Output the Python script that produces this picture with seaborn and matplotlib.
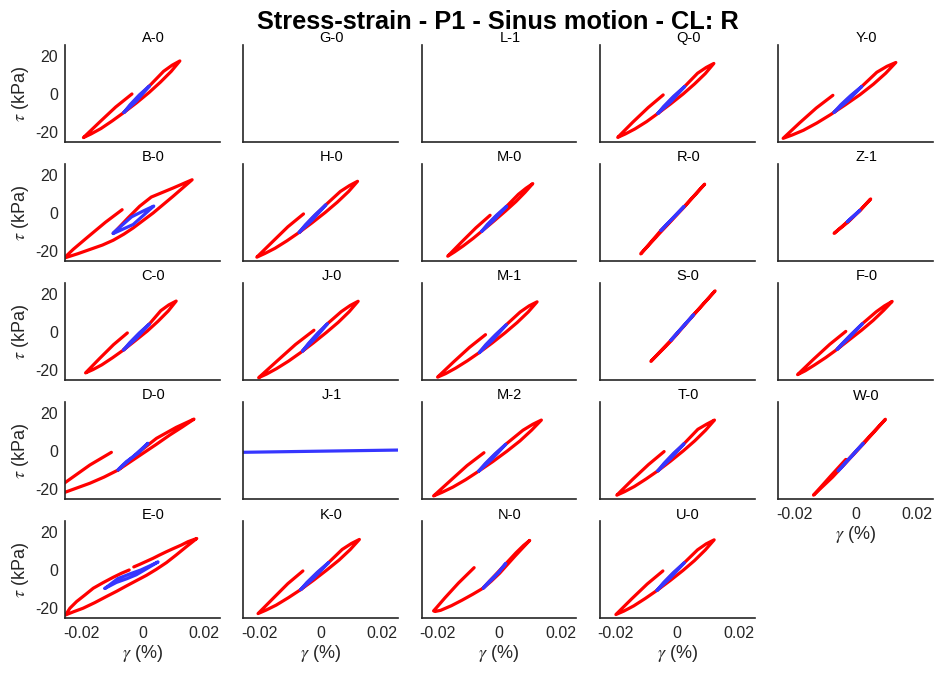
import matplotlib
matplotlib.use("Agg")
import matplotlib.pyplot as plt
import pandas as pd
import seaborn as sns

sns.set_theme(style="white")
plt.rcParams["font.family"] = ["Liberation Sans", "DejaVu Sans"]
plt.rcParams["mathtext.fontset"] = "stix"
plt.rcParams["lines.solid_capstyle"] = "round"
plt.rcParams["lines.solid_joinstyle"] = "round"

RED = "#ff0000"
BLUE = "#3636ff"
INK = "#262626"

# Panel names, laid out row by row (None = no panel)
PANEL_ROWS = [
    ["A-0", "G-0", "L-1", "Q-0", "Y-0"],
    ["B-0", "H-0", "M-0", "R-0", "Z-1"],
    ["C-0", "J-0", "M-1", "S-0", "F-0"],
    ["D-0", "J-1", "M-2", "T-0", "W-0"],
    ["E-0", "K-0", "N-0", "U-0", None],
]

X_TICKS = [-0.02, 0, 0.02]
X_TICK_LABELS = ["-0.02", "0", "0.02"]
Y_TICKS = [-20, 0, 20]
Y_TICK_LABELS = ["-20", "0", "20"]

# Stress-strain paths: (gamma [%], tau [kPa]); red = full record, blue = steady part
A0_red = [(-0.0034, 0.0), (-0.0087, -6.8), (-0.0139, -14.6), (-0.0192, -22.7),
          (-0.0167, -20.8), (-0.0135, -18.0), (-0.0098, -14.0), (-0.0060, -9.6), (-0.0019, -4.6),
          (0.0022, 0.8), (0.0059, 6.2), (0.0094, 11.8), (0.0122, 17.2),
          (0.0097, 15.0), (0.0069, 11.8), (0.0023, 4.2), (-0.0019, -2.4), (-0.0060, -9.6)]
A0_blue = [(-0.0060, -9.6), (-0.0019, -3.6), (0.0023, 4.2), (-0.0010, -0.5), (-0.0040, -5.6),
           (-0.0060, -9.6)]

Q0_red = [(-0.0046, -0.5), (-0.0095, -7.1), (-0.0145, -14.7), (-0.0194, -22.6),
          (-0.0169, -20.8), (-0.0138, -18.2), (-0.0100, -14.4), (-0.0063, -10.1), (-0.0022, -5.2),
          (0.0019, 0.0), (0.0056, 5.2), (0.0091, 10.6), (0.0119, 15.9),
          (0.0094, 13.8), (0.0066, 10.8), (0.0024, 3.9), (-0.0020, -2.8), (-0.0063, -10.1)]
Q0_blue = [(-0.0063, -10.1), (-0.0020, -3.9), (0.0024, 3.9), (-0.0012, -1.2), (-0.0045, -6.6),
           (-0.0063, -10.1)]

Y0_red = [(-0.0074, -0.7), (-0.0128, -7.3), (-0.0182, -15.0), (-0.0236, -23.1),
          (-0.0207, -21.4), (-0.0170, -18.9), (-0.0126, -15.1), (-0.0082, -10.8), (-0.0034, -5.7),
          (0.0014, -0.4), (0.0058, 5.1), (0.0098, 10.8), (0.0131, 16.4),
          (0.0102, 14.4), (0.0069, 11.3), (0.0020, 3.9), (-0.0025, -2.5), (-0.0070, -9.5)]
Y0_blue = [(-0.0070, -9.5), (-0.0025, -3.5), (0.0020, 3.9), (-0.0015, -0.7), (-0.0048, -5.6),
           (-0.0070, -9.5)]

B0_red = [(-0.0066, 1.7), (-0.0120, -4.8), (-0.0180, -12.8), (-0.0225, -18.9), (-0.0255, -23.5),
          (-0.0210, -21.2), (-0.0171, -19.0), (-0.0130, -16.7), (-0.0095, -14.2),
          (-0.0060, -11.0), (-0.0030, -7.8), (0.0035, 0.0), (0.0100, 8.7), (0.0162, 17.3),
          (0.0100, 13.0), (0.0029, 8.3), (-0.0009, 3.5), (-0.0047, -2.6), (-0.0095, -10.7)]
B0_blue = [(-0.0095, -10.7), (-0.0030, -6.0), (0.0037, 3.6), (0.0005, 1.2), (-0.0035, -2.0),
           (-0.0095, -10.4)]

H0_red = [(-0.0056, -0.5), (-0.0107, -7.2), (-0.0157, -15.0), (-0.0208, -23.0),
          (-0.0182, -21.1), (-0.0149, -18.4), (-0.0110, -14.5), (-0.0070, -10.1), (-0.0028, -5.1),
          (0.0015, 0.3), (0.0054, 5.6), (0.0091, 11.2), (0.0120, 16.5),
          (0.0094, 14.3), (0.0064, 11.2), (0.0017, 4.3), (-0.0027, -2.6), (-0.0070, -10.1)]
H0_blue = [(-0.0070, -10.1), (-0.0027, -3.6), (0.0017, 4.3), (-0.0018, -0.9), (-0.0050, -6.2),
           (-0.0070, -10.1)]

M0_red = [(-0.0029, -1.2), (-0.0075, -7.7), (-0.0121, -15.0), (-0.0167, -22.5),
          (-0.0145, -20.3), (-0.0117, -17.2), (-0.0084, -13.2), (-0.0056, -9.5), (-0.0015, -4.0),
          (0.0021, 1.0), (0.0055, 5.9), (0.0085, 10.8), (0.0110, 15.3),
          (0.0088, 12.9), (0.0063, 9.7), (0.0025, 3.5), (-0.0016, -2.7), (-0.0056, -9.5)]
M0_blue = [(-0.0056, -9.5), (-0.0016, -3.6), (0.0025, 3.5), (-0.0007, -1.0), (-0.0038, -6.0),
           (-0.0056, -9.5)]

R0_red = [(-0.0054, -9.2), (-0.0119, -21.3), (-0.0052, -9.6), (0.0022, 3.0), (0.0089, 15.0),
          (0.0024, 3.6), (-0.0054, -9.2)]
R0_blue = [(-0.0054, -9.2), (0.0022, 3.4), (-0.0052, -9.0)]

Z1_red = [(-0.0027, -4.6), (-0.0070, -10.6), (-0.0025, -4.8), (0.0014, 1.2), (0.0049, 7.3),
          (0.0016, 1.6), (-0.0027, -4.6)]
Z1_blue = [(-0.0027, -4.6), (0.0014, 1.4), (-0.0026, -4.4)]

C0_red = [(-0.0049, -0.5), (-0.0094, -6.6), (-0.0140, -13.9), (-0.0185, -21.3),
          (-0.0161, -19.6), (-0.0132, -17.1), (-0.0097, -13.4), (-0.0061, -9.3), (-0.0023, -4.5),
          (0.0016, 0.5), (0.0051, 5.6), (0.0084, 10.9), (0.0110, 16.1),
          (0.0086, 14.1), (0.0060, 11.1), (0.0023, 4.2), (-0.0019, -2.3), (-0.0061, -9.3)]
C0_blue = [(-0.0061, -9.3), (-0.0019, -3.2), (0.0023, 4.2), (-0.0010, -0.5), (-0.0042, -5.7),
           (-0.0061, -9.3)]

J0_red = [(-0.0022, 0.9), (-0.0082, -6.5), (-0.0142, -15.1), (-0.0202, -23.8),
          (-0.0176, -21.9), (-0.0144, -19.1), (-0.0105, -15.2), (-0.0066, -10.8), (-0.0024, -5.7),
          (0.0018, -0.3), (0.0057, 5.0), (0.0093, 10.6), (0.0122, 16.0),
          (0.0096, 13.8), (0.0067, 10.6), (0.0022, 4.3), (-0.0019, -2.5), (-0.0059, -9.9)]
J0_blue = [(-0.0059, -9.9), (-0.0019, -3.5), (0.0022, 4.3), (-0.0010, -0.7), (-0.0040, -6.0),
           (-0.0059, -9.9)]

M1_red = [(-0.0044, -1.4), (-0.0096, -8.0), (-0.0148, -15.6), (-0.0200, -23.5),
          (-0.0174, -21.7), (-0.0142, -18.9), (-0.0103, -15.0), (-0.0064, -10.7), (-0.0022, -5.7),
          (0.0020, -0.4), (0.0059, 4.9), (0.0095, 10.4), (0.0124, 15.7),
          (0.0098, 13.6), (0.0069, 10.4), (0.0024, 3.8), (-0.0020, -3.1), (-0.0064, -10.7)]
M1_blue = [(-0.0064, -10.7), (-0.0020, -4.1), (0.0024, 3.8), (-0.0011, -1.4), (-0.0043, -6.6),
           (-0.0064, -10.7)]

S0_red = [(-0.0021, -4.3), (-0.0086, -15.3), (-0.0020, -4.6), (0.0053, 8.8), (0.0123, 21.4),
          (0.0054, 9.2), (-0.0021, -4.3)]
S0_blue = [(-0.0021, -4.3), (0.0053, 9.0), (-0.0020, -4.1)]

F0_red = [(-0.0032, 0.3), (-0.0084, -6.4), (-0.0137, -14.2), (-0.0189, -22.2),
          (-0.0164, -20.2), (-0.0134, -17.2), (-0.0097, -13.3), (-0.0060, -9.0), (-0.0020, -4.0),
          (0.0020, 1.0), (0.0057, 6.0), (0.0091, 11.2), (0.0119, 15.9),
          (0.0094, 13.6), (0.0067, 10.5), (0.0022, 4.3), (-0.0019, -2.1), (-0.0060, -9.0)]
F0_blue = [(-0.0060, -9.0), (-0.0019, -2.7), (0.0022, 4.3), (-0.0012, -0.9), (-0.0044, -6.1),
           (-0.0060, -9.0)]

D0_red = [(-0.0101, -0.7), (-0.0136, -4.0), (-0.0171, -7.3), (-0.0252, -16.5), (-0.0336, -26.3),
          (-0.0252, -21.5), (-0.0171, -16.8), (-0.0125, -13.6), (-0.0079, -9.9), (0.0002, -1.2),
          (0.0045, 3.4), (0.0089, 8.3), (0.0130, 12.5), (0.0168, 16.6),
          (0.0110, 12.3), (0.0046, 6.6), (-0.0009, -0.3), (-0.0079, -9.9)]
D0_blue = [(-0.0079, -9.9), (-0.0030, -2.9), (0.0018, 4.0), (-0.0014, -1.2), (-0.0052, -5.5),
           (-0.0079, -9.7)]

J1_blue = [(-0.0260, -0.7), (0.0260, 0.5)]

M2_red = [(-0.0049, -0.9), (-0.0104, -7.6), (-0.0158, -15.4), (-0.0213, -23.4),
          (-0.0185, -21.5), (-0.0150, -18.8), (-0.0108, -14.9), (-0.0066, -10.5), (-0.0020, -5.5),
          (0.0026, -0.1), (0.0068, 5.2), (0.0106, 10.8), (0.0138, 16.1),
          (0.0110, 13.9), (0.0078, 10.8), (0.0022, 3.5), (-0.0022, -3.2), (-0.0066, -10.5)]
M2_blue = [(-0.0066, -10.5), (-0.0022, -4.1), (0.0022, 3.5), (-0.0013, -1.5), (-0.0045, -6.6),
           (-0.0066, -10.5)]

T0_red = [(-0.0043, -0.3), (-0.0094, -7.1), (-0.0146, -14.9), (-0.0197, -23.0),
          (-0.0172, -21.2), (-0.0140, -18.5), (-0.0102, -14.6), (-0.0063, -10.3), (-0.0022, -5.3),
          (0.0019, 0.0), (0.0057, 5.3), (0.0092, 10.8), (0.0121, 16.1),
          (0.0096, 14.0), (0.0067, 11.3), (0.0043, 7.3), (0.0022, 3.8), (-0.0021, -3.0),
          (-0.0063, -10.3)]
T0_blue = [(-0.0063, -10.3), (-0.0021, -3.9), (0.0022, 3.8), (-0.0012, -1.2), (-0.0043, -6.4),
           (-0.0063, -10.3)]

W0_red = [(-0.0032, -4.4), (-0.0080, -12.8), (-0.0137, -23.0), (-0.0075, -13.6), (0.0025, 3.6),
          (0.0097, 16.5), (0.0030, 5.0), (-0.0057, -10.2)]
W0_blue = [(-0.0057, -10.4), (0.0025, 4.0), (-0.0055, -10.0)]

E0_red = [(-0.0043, 0.0), (-0.0068, -1.7), (-0.0095, -3.8), (-0.0128, -6.6), (-0.0160, -9.5),
          (-0.0187, -13.0), (-0.0214, -16.4), (-0.0236, -19.9), (-0.0250, -23.4),
          (-0.0225, -21.8), (-0.0193, -19.9), (-0.0155, -17.0), (-0.0117, -13.8),
          (-0.0084, -11.1), (-0.0052, -8.3), (-0.0019, -5.5), (0.0013, -2.8), (0.0045, 0.3),
          (0.0078, 3.8), (0.0110, 7.8), (0.0143, 12.1), (0.0177, 16.4),
          (0.0148, 14.7), (0.0127, 13.0), (0.0100, 11.1), (0.0078, 9.5), (0.0056, 7.8),
          (0.0035, 6.1), (0.0013, 4.5), (-0.0009, 2.9), (-0.0028, 1.6)]
E0_blue = [(-0.0122, -9.6), (-0.0085, -6.5), (-0.0050, -4.5), (-0.0020, -2.5), (0.0010, 0.3),
           (0.0051, 4.2), (0.0025, 2.2), (-0.0005, 0.0), (-0.0040, -2.0), (-0.0080, -4.5),
           (-0.0122, -9.6)]

K0_red = [(-0.0058, -0.5), (-0.0107, -7.1), (-0.0155, -14.8), (-0.0204, -22.7),
          (-0.0178, -20.9), (-0.0145, -18.3), (-0.0105, -14.4), (-0.0065, -10.2), (-0.0023, -5.3),
          (0.0020, 0.0), (0.0060, 5.2), (0.0096, 10.6), (0.0126, 15.9),
          (0.0100, 13.8), (0.0070, 10.7), (0.0026, 3.9), (-0.0020, -2.9), (-0.0065, -10.2)]
K0_blue = [(-0.0065, -10.2), (-0.0020, -3.8), (0.0026, 3.9), (-0.0011, -1.2), (-0.0045, -6.5),
           (-0.0065, -10.2)]

N0_red = [(-0.0081, 1.2), (-0.0132, -6.8), (-0.0176, -14.5), (-0.0203, -19.5), (-0.0213, -21.3),
          (-0.0208, -21.6), (-0.0190, -21.0), (-0.0155, -18.6), (-0.0120, -15.7),
          (-0.0085, -12.6), (-0.0051, -9.4), (-0.0025, -5.8), (0.0002, -1.7), (0.0052, 7.2),
          (0.0100, 15.4),
          (0.0080, 12.8), (0.0055, 8.9), (0.0030, 4.6), (0.0005, 0.3), (-0.0025, -4.8),
          (-0.0051, -9.2)]
N0_blue = [(-0.0051, -9.4), (-0.0014, -3.6), (0.0022, 3.4), (0.0002, -0.7), (-0.0030, -5.7),
           (-0.0051, -9.4)]

U0_red = [(-0.0047, -0.5), (-0.0098, -7.3), (-0.0149, -15.1), (-0.0200, -23.2),
          (-0.0174, -21.4), (-0.0142, -18.7), (-0.0104, -14.8), (-0.0066, -10.6), (-0.0024, -5.6),
          (0.0018, -0.3), (0.0056, 4.9), (0.0091, 10.4), (0.0120, 15.7),
          (0.0094, 13.6), (0.0066, 10.5), (0.0023, 3.8), (-0.0022, -3.1), (-0.0066, -10.6)]
U0_blue = [(-0.0066, -10.6), (-0.0022, -4.0), (0.0023, 3.8), (-0.0013, -1.4), (-0.0045, -6.6),
           (-0.0066, -10.6)]

RED_PATHS = {
    "A-0": A0_red, "Q-0": Q0_red, "Y-0": Y0_red,
    "B-0": B0_red, "H-0": H0_red, "M-0": M0_red, "R-0": R0_red, "Z-1": Z1_red,
    "C-0": C0_red, "J-0": J0_red, "M-1": M1_red, "S-0": S0_red, "F-0": F0_red,
    "D-0": D0_red, "M-2": M2_red, "T-0": T0_red, "W-0": W0_red,
    "E-0": E0_red, "K-0": K0_red, "N-0": N0_red, "U-0": U0_red,
}
BLUE_PATHS = {
    "A-0": A0_blue, "Q-0": Q0_blue, "Y-0": Y0_blue,
    "B-0": B0_blue, "H-0": H0_blue, "M-0": M0_blue, "R-0": R0_blue, "Z-1": Z1_blue,
    "C-0": C0_blue, "J-0": J0_blue, "M-1": M1_blue, "S-0": S0_blue, "F-0": F0_blue,
    "D-0": D0_blue, "J-1": J1_blue, "M-2": M2_blue, "T-0": T0_blue, "W-0": W0_blue,
    "E-0": E0_blue, "K-0": K0_blue, "N-0": N0_blue, "U-0": U0_blue,
}


def draw_path(ax, path, color):
    df = pd.DataFrame(path, columns=["gamma", "tau"])
    sns.lineplot(data=df, x="gamma", y="tau", sort=False, estimator=None,
                 color=color, linewidth=2.3, ax=ax)


fig = plt.figure(figsize=(9.4, 6.77), dpi=100)
axes = fig.subplots(5, 5)
fig.subplots_adjust(left=65 / 940, right=933 / 940, bottom=1 - 618 / 677,
                    top=1 - 45 / 677, wspace=0.152, hspace=0.227)

n_rows = len(PANEL_ROWS)
for r, row in enumerate(PANEL_ROWS):
    for c, name in enumerate(row):
        ax = axes[r, c]
        if name is None:
            ax.axis("off")
            continue
        if name in RED_PATHS:
            draw_path(ax, RED_PATHS[name], RED)
        if name in BLUE_PATHS:
            draw_path(ax, BLUE_PATHS[name], BLUE)

        ax.set_xlim(-0.0252, 0.0252)
        ax.set_ylim(-25, 25.5)
        ax.set_xticks(X_TICKS)
        ax.set_yticks(Y_TICKS)
        for side in ("top", "right"):
            ax.spines[side].set_visible(False)
        for side in ("left", "bottom"):
            ax.spines[side].set_color(INK)
            ax.spines[side].set_linewidth(1.2)
        ax.tick_params(direction="in", length=3, width=0.8, colors=INK,
                       labelsize=11.5, pad=5)
        ax.tick_params(axis="x", pad=6)

        show_x = (r == n_rows - 1) or (r + 1 < n_rows and PANEL_ROWS[r + 1][c] is None)
        if show_x:
            ax.set_xticklabels(X_TICK_LABELS)
            ax.set_xlabel(r"$\gamma$ (%)", fontsize=13, color=INK, labelpad=1)
        else:
            ax.set_xticklabels([])
            ax.set_xlabel("")
        if c == 0:
            ax.set_yticklabels(Y_TICK_LABELS)
            ax.set_ylabel(r"$\tau$ (kPa)", fontsize=13, color=INK, labelpad=3)
        else:
            ax.set_yticklabels([])
            ax.set_ylabel("")
        ax.set_title(name, fontsize=10.5, pad=1.5, x=0.57, color="black")

fig.text(0.530, 0.9675, "Stress-strain - P1 - Sinus motion - CL: R",
         ha="center", va="center", fontsize=18.3, fontweight="bold", color="black")

fig.savefig("out.png", dpi=100, facecolor="white")
